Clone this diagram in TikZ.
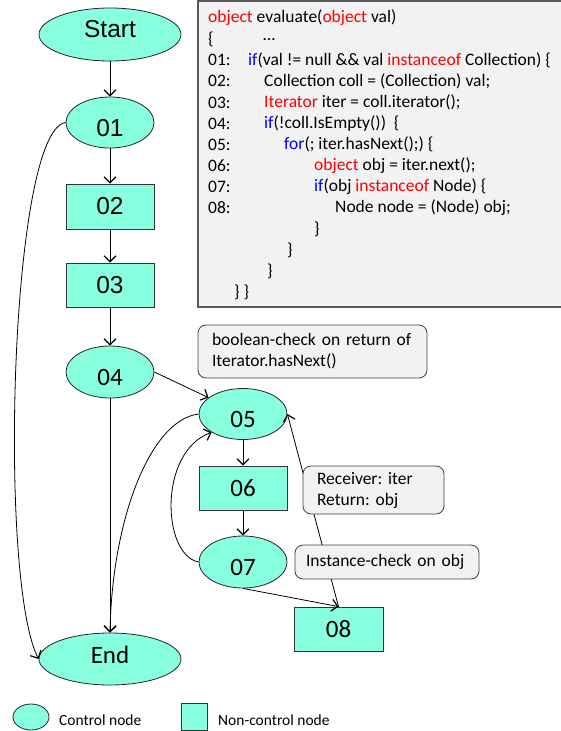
\documentclass[tikz,border=0pt]{standalone}
\usepackage{fontspec}
\setmainfont{Carlito}
\newfontfamily\arialfont{Liberation Sans}
\usetikzlibrary{arrows.meta, shapes.geometric, positioning}
\definecolor{nodeaqua}{RGB}{136,255,222}
\definecolor{notegray}{RGB}{242,242,242}
\definecolor{kwred}{RGB}{255,0,0}
\definecolor{kwblue}{RGB}{0,0,255}
\frenchspacing

\begin{document}
\begin{tikzpicture}[x=1pt, y=-1pt,
          ctrl/.style={
              ellipse,
              draw=black!85,
              fill=nodeaqua,
              line width=0.8pt,
              inner sep=0pt,
              minimum width=88pt,
              minimum height=52pt,
              font=\fontsize{25}{30}\selectfont
            },
          stmt/.style={
              rectangle,
              draw=black!80,
              fill=nodeaqua,
              line width=0.8pt,
              inner sep=0pt,
              minimum width=88pt,
              minimum height=44pt,
              font=\fontsize{25}{30}\selectfont
            },
          arialtxt/.style={font=\arialfont\fontsize{24.5}{29}\selectfont},
          lowtxt/.style={text height=26pt, text depth=0pt},
          hightxt/.style={text height=17pt, text depth=#1},
          note/.style={
              rectangle,
              rounded corners=8pt,
              draw=black!75,
              fill=notegray,
              line width=0.8pt,
              align=left,
              inner xsep=14pt,
              font=\fontsize{17.5}{21}\selectfont
            },
          code/.style={anchor=west, inner sep=0pt, font=\fontsize{17.5}{21}\selectfont},
          legtxt/.style={anchor=west, inner sep=0pt, font=\fontsize{15.5}{18}\selectfont},
          arr/.style={-{Straight Barb[length=6pt, width=12pt, line width=1.2pt]}, black, line width=0.8pt}
        ]
        \useasboundingbox (0,0) rectangle (560,731);

        % source code listing
        \draw[fill=notegray, draw=black!65, line width=1.2pt] (198,1) rectangle (566,307);
        \node[code] (code0) at (208,18.0) {\textcolor{kwred}{object} evaluate(\textcolor{kwred}{object} val)};
        \node[code] (code1) at (208,39.1) {\{};
        \node[code] (dots) at (263,39.1) {…};
        \node[code] (num1) at (208,60.2) {01:};
        \node[code] (num2) at (208,81.3) {02:};
        \node[code] (num3) at (208,102.4) {03:};
        \node[code] (num4) at (208,123.5) {04:};
        \node[code] (num5) at (208,144.6) {05:};
        \node[code] (num6) at (208,165.7) {06:};
        \node[code] (num7) at (208,186.8) {07:};
        \node[code] (num8) at (208,207.9) {08:};
        \node[code] (code2) at (248,60.2) {\textcolor{kwblue}{if}(val != null \&\& val \textcolor{kwred}{instanceof} Collection) \{};
        \node[code] (code3) at (264,81.3) {Collection coll = (Collection) val;};
        \node[code] (code4) at (264,102.4) {\textcolor{kwred}{Iterator} iter = coll.iterator();};
        \node[code] (code5) at (264,123.5) {\textcolor{kwblue}{if}(!coll.IsEmpty())\ \ \{};
        \node[code] (code6) at (284,144.6) {\textcolor{kwblue}{for}(; iter.hasNext();) \{};
        \node[code] (code7) at (314,165.7) {\textcolor{kwred}{object} obj = iter.next();};
        \node[code] (code8) at (314,186.8) {\textcolor{kwblue}{if}(obj \textcolor{kwred}{instanceof} Node) \{};
        \node[code] (code9) at (335,207.9) {Node node = (Node) obj;};
        \node[code] (close1) at (314,229.0) {\}};
        \node[code] (close2) at (287,250.1) {\}};
        \node[code] (close3) at (267,271.2) {\}};
        \node[code] (close4) at (234,292.3) {\}\ \}};

        % control flow graph
        \node[ctrl, arialtxt, hightxt=12pt, minimum width=142pt, minimum height=53pt] (start) at (110,34.5) {Start};
        \node[ctrl, arialtxt, text height=27.5pt, text depth=0pt, minimum height=51pt] (n01) at (110,122.5) {01};
        \node[stmt, arialtxt, minimum height=45pt] (n02) at (110,206.5) {02};
        \node[stmt, arialtxt] (n03) at (110,285) {03};
        \node[ctrl, lowtxt] (n04) at (110,372) {04};
        \node[ctrl, lowtxt, minimum height=51pt] (n05) at (243,414) {05};
        \node[stmt] (n06) at (243,488) {06};
        \node[ctrl, lowtxt] (n07) at (243,562) {07};
        \node[stmt, minimum width=89pt] (n08) at (338.5,629) {08};
        \node[ctrl, hightxt=9pt, minimum width=142pt] (end) at (110,659) {End};

        \draw[arr] (start) -- (n01);
        \draw[arr] (n01) -- (n02);
        \draw[arr] (n02) -- (n03);
        \draw[arr] (n03) -- (n04);
        \draw[arr] (n04) -- (end);
        \draw[arr] (n04.east) -- (n05);
        \draw[arr] (n05) -- (n06);
        \draw[arr] (n06) -- (n07);
        \draw[arr] (n07.south) -- (n08.north);
        \draw[arr] (n08.north) -- (n05.east);
        \draw[arr] (n07.west) .. controls (162,555) and (158,452) .. (n05.south west);
        \draw[arr] (n05.west) .. controls (150,420) and (112,520) .. (end.north);
        \draw[arr] (n01.west) .. controls (10,130) and (-2,580) .. (end.west);

        % annotations
        \node[note, text width=201pt, minimum height=53pt] (note_next) at (312.5,351.5) {boolean-check on return of\\Iterator.hasNext()};
        \node[note, text width=113pt, minimum height=48pt] (note_recv) at (373.5,490) {Receiver: iter\\Return: obj};
        \node[note, inner xsep=11pt, text width=162pt, minimum height=34pt] (note_inst) at (387,562) {Instance-check on obj};

        % legend
        \node[ctrl, minimum width=36pt, minimum height=26pt] (leg_ctrl) at (31,717) {};
        \node[legtxt] (leg_ctrl_txt) at (59,720) {Control node};
        \node[stmt, minimum width=26pt, minimum height=27pt] (leg_stmt) at (194,716.5) {};
        \node[legtxt] (leg_stmt_txt) at (218,720) {Non-control node};
      \end{tikzpicture}
\end{document}
